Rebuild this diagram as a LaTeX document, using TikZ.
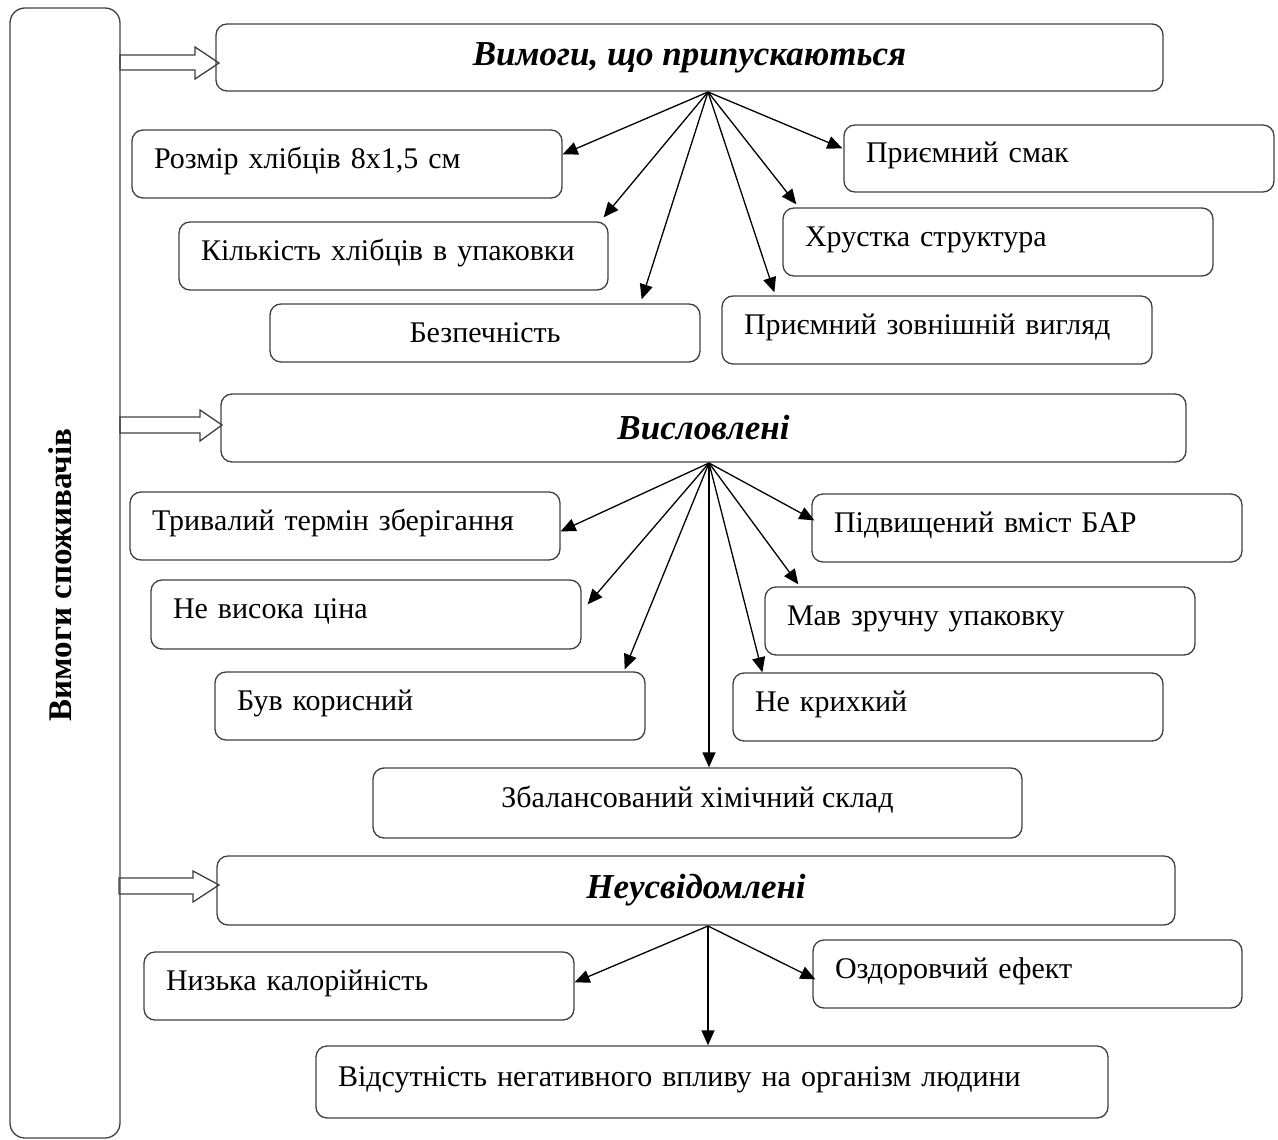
\documentclass[tikz,border=0pt]{standalone}
\usepackage{fontspec}
\setmainfont{Liberation Serif}
\usetikzlibrary{arrows.meta,calc}
\tikzset{
  box/.style={draw=black!75, line width=1.3pt, rounded corners=11pt, minimum height=68pt, inner ysep=0pt, inner xsep=0pt, font=\fontsize{30}{34}\selectfont},
  upper/.style={text height=22pt, text depth=14pt},
  lbox/.style={box, upper, align=left, text width=#1},
  hdr/.style={box, font=\fontsize{35}{40}\selectfont\bfseries\itshape},
  fan/.style={line width=1.3pt, -{Triangle[length=15pt,width=13pt]}},
  hollow/.style={draw=black!75, line width=1.3pt, fill=white},
}
\begin{document}
\begin{tikzpicture}[x=1pt,y=-1pt]
\useasboundingbox (0,0) rectangle (1278,1140);
% hollow arrows
\draw[hollow] (120,55) -- (195,55) -- (195,47) -- (219,63) -- (195,79) -- (195,70) -- (120,70) -- cycle;
\draw[hollow] (120,417) -- (200,417) -- (200,410) -- (222,425) -- (200,441) -- (200,433) -- (120,433) -- cycle;
\draw[hollow] (119,878) -- (193,878) -- (193,871) -- (219,885) -- (193,902) -- (193,894) -- (119,894) -- cycle;

% left tall box
\node[box, minimum width=110pt, minimum height=1130pt, rounded corners=15pt] (L) at (65,573) {};
\node[rotate=90, font=\fontsize{33}{38}\selectfont\bfseries] (Lt) at (60,575) {Вимоги споживачів};

% headers
\node[hdr, minimum width=947pt, minimum height=67pt] (h1) at (689.5,57.5) {Вимоги, що припускаються};
\node[hdr, minimum width=965pt, minimum height=68pt] (h2) at (703.5,428) {Висловлені};
\node[hdr, minimum width=958pt, minimum height=69pt] (h3) at (696,890.5) {Неусвідомлені};

% section 1 boxes
\node[lbox=386pt, minimum width=430pt, inner xsep=22pt] (b1) at (347,164) {Розмір хлібців 8х1,5 см};
\node[lbox=385pt, minimum width=429pt, inner xsep=22pt] (b2) at (393.5,256) {Кількість хлібців в упаковки};
\node[box, minimum width=430pt, minimum height=58pt] (b3) at (485,333) {Безпечність};
\node[lbox=386pt, minimum width=430pt, inner xsep=22pt] (b4) at (937,330) {Приємний зовнішній вигляд};
\node[lbox=386pt, minimum width=430pt, inner xsep=22pt] (b5) at (998,242) {Хрустка структура};
\node[lbox=386pt, minimum width=430pt, inner xsep=22pt, minimum height=67pt] (b6) at (1059,158.5) {Приємний смак};

\coordinate (f1) at (708,92);
\draw[fan] (f1) -- ($(b1.north east)+(0,25)$);
\draw[fan] (f1) -- ($(b2.north east)+(-5,-4)$);
\draw[fan] (f1) -- ($(b3.north east)+(-59,-4)$);
\draw[fan] (f1) -- ($(b4.north west)+(53,-3)$);
\draw[fan] (f1) -- ($(b5.north west)+(14,-3)$);
\draw[fan] (f1) -- ($(b6.north west)+(-1,24)$);

% section 2 boxes
\node[lbox=386pt, minimum width=430pt, inner xsep=22pt] (c1) at (345,526) {Тривалий термін зберігання};
\node[lbox=386pt, minimum width=430pt, inner xsep=22pt, minimum height=69pt] (c2) at (366,614.5) {Не висока ціна};
\node[lbox=386pt, minimum width=430pt, inner xsep=22pt] (c3) at (430,706) {Був корисний};
\node[box, upper, minimum width=649pt, minimum height=70pt] (c4) at (697.5,803) {Збалансований хімічний склад};
\node[lbox=386pt, minimum width=430pt, inner xsep=22pt] (c5) at (948,707) {Не крихкий};
\node[lbox=386pt, minimum width=430pt, inner xsep=22pt] (c6) at (980,621) {Мав зручну упаковку};
\node[lbox=386pt, minimum width=430pt, inner xsep=22pt] (c7) at (1027,528) {Підвищений вміст БАР};

\coordinate (f2) at (709,463);
\draw[fan] (f2) -- ($(c1.north east)+(0,40)$);
\draw[fan] (f2) -- ($(c2.north east)+(6,25)$);
\draw[fan] (f2) -- ($(c3.north east)+(-21,-2)$);
\draw[fan] (f2) -- (f2 |- c4.north);
\draw[fan] (f2) -- ($(c5.north west)+(30,0)$);
\draw[fan] (f2) -- ($(c6.north west)+(34,-2)$);
\draw[fan] (f2) -- ($(c7.north west)+(3,27)$);

% section 3 boxes
\node[lbox=386pt, minimum width=430pt, inner xsep=22pt] (d1) at (359,986) {Низька калорійність};
\node[lbox=385pt, minimum width=429pt, inner xsep=22pt] (d2) at (1027.5,974) {Оздоровчий ефект};
\node[lbox=748pt, minimum width=792pt, inner xsep=22pt, minimum height=72pt] (d3) at (712,1082) {Відсутність негативного впливу на організм людини};

\coordinate (f3) at (708,926);
\draw[fan] (f3) -- ($(d1.north east)+(0,31)$);
\draw[fan] (f3) -- ($(d2.north west)+(3,40)$);
\draw[fan] (f3) -- (f3 |- d3.north);
\end{tikzpicture}
\end{document}
